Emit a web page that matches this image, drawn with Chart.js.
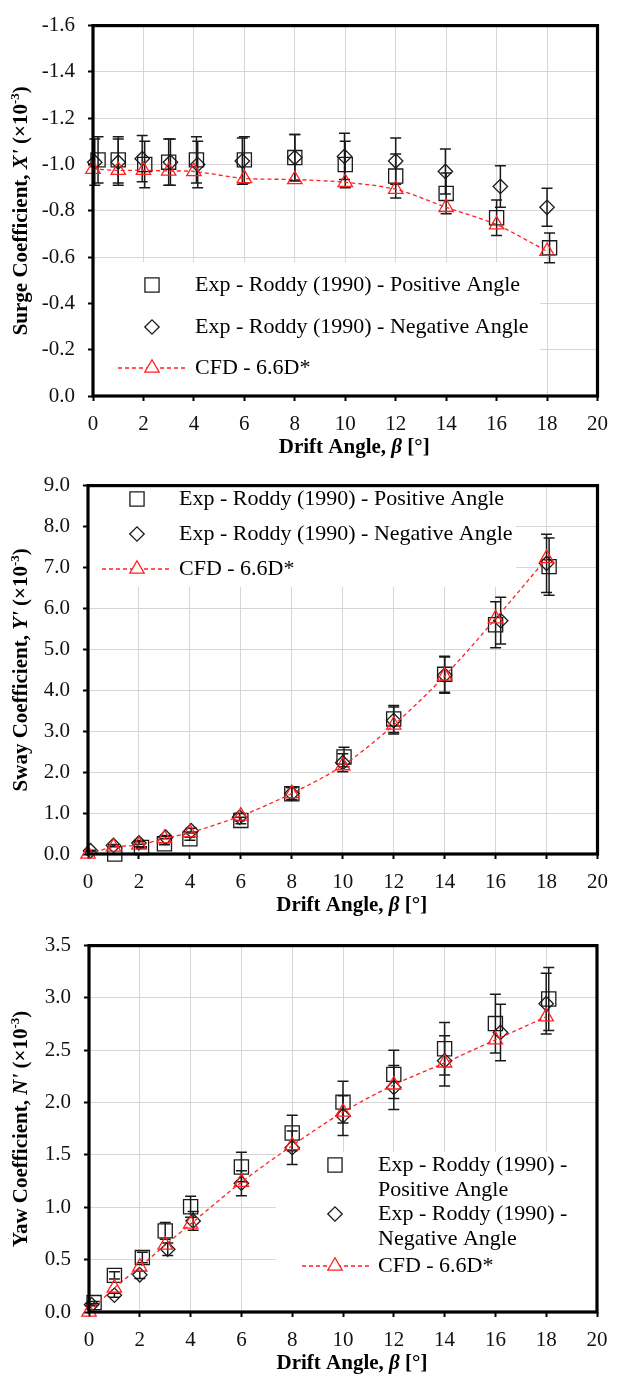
<!DOCTYPE html>
<html>
<head>
<meta charset="utf-8">
<title>Hydrodynamic coefficients vs drift angle</title>
<script src="https://cdn.jsdelivr.net/npm/chart.js@4.4.1/dist/chart.umd.min.js"></script>
<style>
  html, body { margin: 0; padding: 0; background: #ffffff; }
  #wrap { position: relative; width: 619px; height: 1376px; overflow: hidden; }
  #wrap canvas { position: absolute; left: 0; }
</style>
</head>
<body>
<div id="wrap">
  <canvas id="surge" width="619" height="460" style="top:0px"></canvas>
  <canvas id="sway" width="619" height="460" style="top:460px"></canvas>
  <canvas id="yaw" width="619" height="456" style="top:920px"></canvas>
</div>
<script>
// ---- Drift angle and coefficient data (values ×10^-3) ----
const driftAngles = [0, 1, 2, 3, 4, 6, 8, 10, 12, 14, 16, 18];
const xTickValues = [0, 2, 4, 6, 8, 10, 12, 14, 16, 18, 20];

// Surge coefficient X'
const surgePosX   = [0.2, 1, 2.05, 3, 4.1, 6, 8, 10, 12, 14, 16, 18.1];
const surgePos    = [-1.02, -1.02, -1.00, -1.01, -1.02, -1.02, -1.03, -1.00, -0.95, -0.875, -0.77, -0.64];
const surgePosErr = [0.10, 0.10, 0.10, 0.10, 0.10, 0.10, 0.10, 0.10, 0.095, 0.088, 0.077, 0.064];
const surgeNegX   = [0.07, 1, 1.95, 3.07, 4.15, 5.92, 8, 9.97, 12, 13.97, 16.15, 18];
const surgeNeg    = [-1.01, -1.01, -1.025, -1.01, -1.00, -1.015, -1.03, -1.035, -1.015, -0.97, -0.905, -0.815];
const surgeNegErr = [0.10, 0.10, 0.10, 0.10, 0.10, 0.10, 0.10, 0.10, 0.10, 0.097, 0.09, 0.082];
const surgeCfd    = [-0.98, -0.975, -0.975, -0.972, -0.97, -0.94, -0.935, -0.923, -0.893, -0.815, -0.74, -0.625];
const surgeYTicks = [-1.6, -1.4, -1.2, -1.0, -0.8, -0.6, -0.4, -0.2, 0.0];

// Sway coefficient Y'
const swayPosX   = [0.2, 1.05, 2.1, 3, 4, 6, 8, 10.05, 12, 14, 16, 18.1];
const swayPos    = [null, 0.0, 0.16, 0.25, 0.37, 0.82, 1.47, 2.37, 3.30, 4.39, 5.60, 7.02];
const swayPosErr = [null, 0.0, 0.016, 0.025, 0.037, 0.08, 0.15, 0.24, 0.33, 0.44, 0.56, 0.70];
const swayNegX   = [0.1, 1, 2, 3.05, 4.05, 5.95, 8, 10, 12, 14, 16.2, 18];
const swayNeg    = [0.08, 0.21, 0.27, 0.41, 0.57, 0.90, 1.48, 2.23, 3.26, 4.37, 5.70, 7.10];
const swayNegErr = [0.01, 0.02, 0.03, 0.04, 0.06, 0.09, 0.15, 0.22, 0.33, 0.44, 0.57, 0.71];
const swayCfd    = [0.0, 0.17, 0.22, 0.38, 0.52, 0.93, 1.48, 2.16, 3.15, 4.35, 5.75, 7.22];
const swayYTicks = [0, 1, 2, 3, 4, 5, 6, 7, 8, 9];

// Yaw coefficient N'
const yawPosX   = [0.2, 1, 2.1, 3, 4, 6, 8, 10, 12, 14, 16, 18.1];
const yawPos    = [0.09, 0.35, 0.52, 0.775, 1.005, 1.385, 1.71, 2.005, 2.27, 2.515, 2.755, 2.99];
const yawPosErr = [0.01, 0.035, 0.05, 0.08, 0.10, 0.14, 0.17, 0.20, 0.23, 0.25, 0.28, 0.30];
const yawNegX   = [0.1, 1, 2, 3.1, 4.1, 6, 8, 10, 12, 14, 16.2, 18];
const yawNeg    = [0.07, 0.16, 0.355, 0.60, 0.87, 1.23, 1.57, 1.875, 2.145, 2.40, 2.67, 2.945];
const yawNegErr = [0.01, 0.02, 0.035, 0.06, 0.09, 0.12, 0.16, 0.19, 0.21, 0.24, 0.27, 0.29];
const yawCfd    = [0.0, 0.23, 0.43, 0.64, 0.84, 1.24, 1.59, 1.91, 2.17, 2.38, 2.60, 2.82];
const yawYTicks = [0, 0.5, 1.0, 1.5, 2.0, 2.5, 3.0, 3.5];

const legendPos = 'Exp - Roddy (1990) - Positive Angle';
const legendNeg = 'Exp - Roddy (1990) - Negative Angle';
const legendCfd = 'CFD - 6.6D*';

const SERIF = "'Liberation Serif', 'Times New Roman', serif";
const INK = '#1a1a1a';
const CFD_RED = '#ff2020';
const GRID = '#d6d6d6';

function pts(xs, ys) {
  return xs.map((x, i) => ({ x: x, y: ys[i] }));
}

// draw a run of styled text pieces centred on (x, y), optionally rotated
function richText(ctx, segs, x, y, size, rotate) {
  ctx.save();
  ctx.translate(x, y);
  if (rotate) ctx.rotate(-Math.PI / 2);
  let total = 0;
  const parts = segs.map(s => {
    const sz = s.sup ? Math.round(size * 0.62) : size;
    const font = (s.italic ? 'italic ' : '') + 'bold ' + sz + 'px ' + SERIF;
    ctx.font = font;
    const w = ctx.measureText(s.t).width;
    total += w;
    return { font: font, w: w, dy: s.sup ? -size * 0.32 : 0 };
  });
  let cx = -total / 2;
  ctx.textAlign = 'left';
  ctx.textBaseline = 'middle';
  ctx.fillStyle = '#000';
  segs.forEach((s, i) => {
    ctx.font = parts[i].font;
    ctx.fillText(s.t, cx, parts[i].dy);
    cx += parts[i].w;
  });
  ctx.restore();
}

// error bars, legend box, frame and axis titles
const decorations = {
  id: 'decorations',
  beforeDatasetsDraw(chart) {
    const o = chart.options.plugins.decorations;
    const ctx = chart.ctx;
    const xs = chart.scales.x, ys = chart.scales.y;
    // legend panel (white, covering the grid)
    const lg = o.legend;
    ctx.save();
    ctx.fillStyle = '#ffffff';
    ctx.fillRect(lg.box[0], lg.box[1], lg.box[2] - lg.box[0], lg.box[3] - lg.box[1]);
    ctx.font = '22px ' + SERIF;
    ctx.fillStyle = '#000';
    ctx.textAlign = 'left';
    ctx.textBaseline = 'middle';
    lg.rows.forEach(r => {
      const ds = chart.data.datasets[r.ds];
      if (ds.showLine) {
        ctx.save();
        ctx.strokeStyle = ds.borderColor;
        ctx.lineWidth = ds.borderWidth;
        ctx.setLineDash(ds.borderDash);
        ctx.beginPath();
        ctx.moveTo(lg.line[0], r.y);
        ctx.lineTo(lg.line[1], r.y);
        ctx.stroke();
        ctx.restore();
      }
      ctx.save();
      ctx.strokeStyle = ds.pointBorderColor;
      ctx.lineWidth = ds.pointBorderWidth;
      ctx.fillStyle = '#ffffff';
      Chart.helpers.drawPoint(ctx, {
        pointStyle: ds.pointStyle, radius: ds.pointRadius, borderWidth: ds.pointBorderWidth, rotation: 0
      }, lg.markerX, r.y);
      ctx.restore();
      ctx.fillStyle = '#000';
      r.text.forEach((t, k) => ctx.fillText(t, lg.textX, r.y + k * lg.lineGap));
    });
    ctx.restore();

    // error bars
    ctx.save();
    ctx.strokeStyle = INK;
    ctx.lineWidth = 1.5;
    chart.data.datasets.forEach(ds => {
      if (!ds.errors) return;
      ds.data.forEach((p, i) => {
        const e = ds.errors[i];
        if (p.y === null || e === null || e === undefined) return;
        const px = xs.getPixelForValue(p.x);
        const y1 = ys.getPixelForValue(p.y - e);
        const y2 = ys.getPixelForValue(p.y + e);
        ctx.beginPath();
        ctx.moveTo(px, y1); ctx.lineTo(px, y2);
        ctx.moveTo(px - 5.5, y1); ctx.lineTo(px + 5.5, y1);
        ctx.moveTo(px - 5.5, y2); ctx.lineTo(px + 5.5, y2);
        ctx.stroke();
      });
    });
    ctx.restore();
  },
  afterDraw(chart) {
    const o = chart.options.plugins.decorations;
    const ctx = chart.ctx;
    const a = chart.chartArea;
    ctx.save();
    ctx.strokeStyle = '#000';
    ctx.lineWidth = 3.2;
    ctx.strokeRect(a.left, a.top, a.right - a.left, a.bottom - a.top);
    ctx.restore();
    richText(ctx, [
      { t: 'Drift Angle, ' }, { t: 'β', italic: true }, { t: ' [°]' }
    ], (a.left + a.right) / 2 + 9, a.bottom + 52, 21, false);
    richText(ctx, o.yTitle, 22, (a.top + a.bottom) / 2, 21, true);
  }
};

function makeChart(id, area, cfg) {
  const canvas = document.getElementById(id);
  const H = canvas.height;
  return new Chart(canvas, {
    type: 'scatter',
    data: {
      datasets: [
        {
          label: legendPos,
          data: pts(cfg.posX, cfg.pos),
          errors: cfg.posErr,
          pointStyle: 'rect', pointRadius: 10,
          pointBorderColor: INK, pointBackgroundColor: 'rgba(0,0,0,0)', pointBorderWidth: 1.3,
          showLine: false, clip: false, order: 2
        },
        {
          label: legendNeg,
          data: pts(cfg.negX, cfg.neg),
          errors: cfg.negErr,
          pointStyle: 'rectRot', pointRadius: 7.2,
          pointBorderColor: INK, pointBackgroundColor: 'rgba(0,0,0,0)', pointBorderWidth: 1.3,
          showLine: false, clip: false, order: 1
        },
        {
          label: legendCfd,
          data: pts(driftAngles, cfg.cfd),
          pointStyle: 'triangle', pointRadius: 8.3,
          pointBorderColor: CFD_RED, pointBackgroundColor: 'rgba(0,0,0,0)', pointBorderWidth: 1.3,
          borderColor: CFD_RED, borderWidth: 1.3, borderDash: [4, 3],
          showLine: true, tension: 0.3, clip: false, order: 0
        }
      ]
    },
    options: {
      responsive: false,
      animation: false,
      devicePixelRatio: 1,
      events: [],
      layout: { padding: { top: area.top, right: canvas.width - area.right, left: 0, bottom: 0 } },
      scales: {
        x: {
          type: 'linear', min: 0, max: 20,
          afterFit(s) { s.height = H - area.bottom; },
          afterBuildTicks(s) { s.ticks = xTickValues.map(v => ({ value: v })); },
          border: { display: false },
          grid: {
            color: GRID, lineWidth: 1, borderDash: [2, 2],
            tickColor: '#000', tickWidth: 2, tickLength: 5, tickBorderDash: []
          },
          ticks: { font: { family: SERIF, size: 21 }, color: '#111', padding: 11, maxRotation: 0 }
        },
        y: {
          type: 'linear', min: cfg.yMin, max: cfg.yMax, reverse: !!cfg.reverse,
          afterFit(s) { s.width = area.left; },
          afterBuildTicks(s) { s.ticks = cfg.yTicks.map(v => ({ value: v })); },
          border: { display: false },
          grid: {
            color: GRID, lineWidth: 1, borderDash: [2, 2],
            tickColor: '#000', tickWidth: 2, tickLength: 5, tickBorderDash: []
          },
          ticks: {
            font: { family: SERIF, size: 21 }, color: '#111', padding: 13,
            callback: v => Number(v).toFixed(1)
          }
        }
      },
      plugins: {
        legend: { display: false },
        tooltip: { enabled: false },
        decorations: { legend: cfg.legend, yTitle: cfg.yTitle }
      }
    },
    plugins: [decorations]
  });
}

makeChart('surge', { top: 16, bottom: 396, left: 93, right: 598 }, {
  posX: surgePosX, pos: surgePos, posErr: surgePosErr,
  negX: surgeNegX, neg: surgeNeg, negErr: surgeNegErr,
  cfd: surgeCfd, yMin: -1.6, yMax: 0, reverse: true, yTicks: surgeYTicks,
  yTitle: [{ t: 'Surge Coefficient, ' }, { t: "X'", italic: true }, { t: ' (×10' }, { t: '-3', sup: true }, { t: ')' }],
  legend: {
    box: [94, 262, 540, 395], markerX: 152, line: [118, 188], textX: 195, lineGap: 25,
    rows: [
      { ds: 0, y: 285, text: [legendPos] },
      { ds: 1, y: 327, text: [legendNeg] },
      { ds: 2, y: 368, text: [legendCfd] }
    ]
  }
});

makeChart('sway', { top: 15, bottom: 394, left: 88, right: 598 }, {
  posX: swayPosX, pos: swayPos, posErr: swayPosErr,
  negX: swayNegX, neg: swayNeg, negErr: swayNegErr,
  cfd: swayCfd, yMin: 0, yMax: 9, yTicks: swayYTicks,
  yTitle: [{ t: 'Sway Coefficient, ' }, { t: "Y'", italic: true }, { t: ' (×10' }, { t: '-3', sup: true }, { t: ')' }],
  legend: {
    box: [89, 16, 516, 127], markerX: 137, line: [102, 172], textX: 179, lineGap: 25,
    rows: [
      { ds: 0, y: 39, text: [legendPos] },
      { ds: 1, y: 74, text: [legendNeg] },
      { ds: 2, y: 109, text: [legendCfd] }
    ]
  }
});

makeChart('yaw', { top: 12, bottom: 392, left: 89, right: 597 }, {
  posX: yawPosX, pos: yawPos, posErr: yawPosErr,
  negX: yawNegX, neg: yawNeg, negErr: yawNegErr,
  cfd: yawCfd, yMin: 0, yMax: 3.5, yTicks: yawYTicks,
  yTitle: [{ t: 'Yaw Coefficient, ' }, { t: "N'", italic: true }, { t: ' (×10' }, { t: '-3', sup: true }, { t: ')' }],
  legend: {
    box: [276, 232, 596, 391], markerX: 335, line: [302, 370], textX: 378, lineGap: 25,
    rows: [
      { ds: 0, y: 245, text: ['Exp - Roddy (1990) -', 'Positive Angle'] },
      { ds: 1, y: 294, text: ['Exp - Roddy (1990) -', 'Negative Angle'] },
      { ds: 2, y: 346, text: [legendCfd] }
    ]
  }
});
</script>
</body>
</html>
